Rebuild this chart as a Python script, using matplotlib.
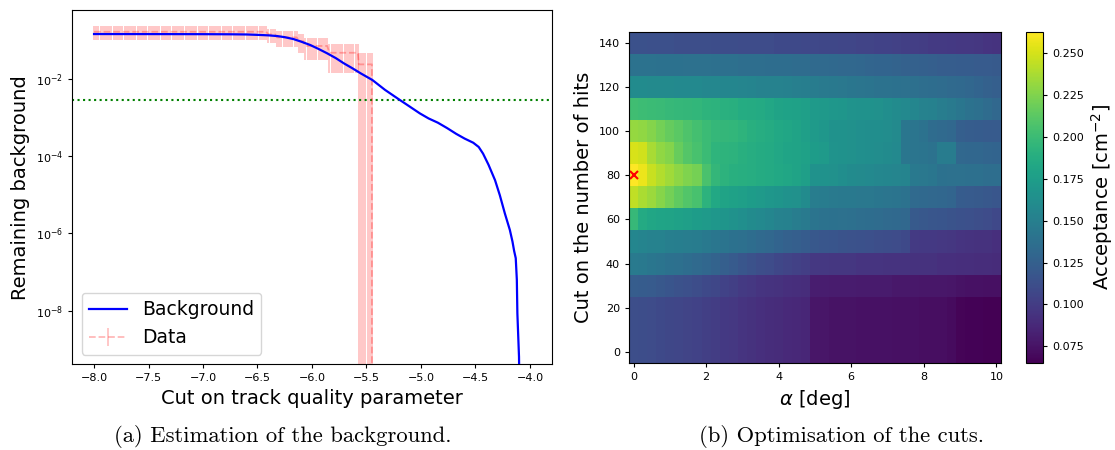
import numpy as np
import matplotlib
matplotlib.use("Agg")
import matplotlib.pyplot as plt
from matplotlib.ticker import NullLocator, FixedLocator

# ---------------- Left panel data ----------------
bkg_cut = [-8.00, -7.50, -7.00, -6.75, -6.60, -6.476, -6.40, -6.32, -6.25, -6.17,
           -6.10, -6.015, -5.94, -5.86, -5.78, -5.707, -5.63, -5.553, -5.445, -5.33,
           -5.20, -5.10, -5.01, -4.93, -4.845, -4.76, -4.676, -4.60, -4.52, -4.47,
           -4.43, -4.38, -4.32, -4.276, -4.23, -4.184, -4.16, -4.145, -4.13, -4.12,
           -4.115, -4.10, -4.095]
bkg_remaining = [0.1466, 0.1462, 0.1455, 0.1445, 0.1429, 0.1387, 0.1355, 0.1300, 0.1216, 0.1086,
                 0.0933, 0.0760, 0.0603, 0.0463, 0.0347, 0.0255, 0.0191, 0.01406, 0.00942, 0.00525,
                 0.00295, 0.00191, 0.00129, 0.000955, 0.000741, 0.000537, 0.000380, 0.000288, 0.000224, 0.000174,
                 0.000117, 6.03e-5, 2.40e-5, 9.77e-6, 3.31e-6, 1.23e-6, 6.17e-7, 3.55e-7, 2.29e-7, 6.3e-8,
                 8.5e-9, 6.3e-10, 3.2e-11]

# step levels of the data curve (start of each step, value, uncertainty)
data_step_start = [-8.00, -6.40, -6.32, -6.12, -6.06, -5.84, -5.57, -5.43]
data_step_value = [0.168, 0.144, 0.120, 0.096, 0.072, 0.048, 0.024, 0.0]
data_step_error = [0.0635, 0.0588, 0.0537, 0.048, 0.0416, 0.034, 0.0245, 0.0]
data_scan_step = 0.02
data_last_cut = -5.42

threshold = 2.8e-3
left_yticks = [1e-8, 1e-6, 1e-4, 1e-2]

# ---------------- Right panel data ----------------
alpha_deg = np.arange(0, 10.01, 0.25)          # scanned alpha cut values
hit_cuts = [0, 10, 20, 30, 40, 50, 60, 70, 80, 90, 100, 110, 120, 130, 140]

acc_0 = [0.112, 0.111, 0.110, 0.109, 0.107, 0.106, 0.105, 0.104, 0.102, 0.100, 0.098, 0.097,
         0.095, 0.093, 0.092, 0.090, 0.089, 0.088, 0.087, 0.086, 0.076, 0.076, 0.075, 0.075,
         0.075, 0.074, 0.074, 0.074, 0.074, 0.073, 0.073, 0.073, 0.072, 0.072, 0.072, 0.071,
         0.067, 0.066, 0.066, 0.065, 0.065]
acc_10 = acc_0
acc_20 = acc_0
acc_30 = [0.123, 0.122, 0.121, 0.119, 0.117, 0.115, 0.113, 0.111, 0.109, 0.107, 0.104, 0.102,
          0.099, 0.097, 0.095, 0.094, 0.093, 0.092, 0.091, 0.090, 0.081, 0.081, 0.080, 0.080,
          0.080, 0.079, 0.079, 0.079, 0.079, 0.078, 0.078, 0.078, 0.077, 0.077, 0.077, 0.076,
          0.075, 0.074, 0.074, 0.073, 0.073]
acc_40 = [0.146, 0.145, 0.143, 0.141, 0.139, 0.137, 0.135, 0.133, 0.130, 0.127, 0.124, 0.121,
          0.118, 0.115, 0.112, 0.110, 0.107, 0.105, 0.103, 0.101, 0.097, 0.097, 0.096, 0.096,
          0.096, 0.095, 0.095, 0.095, 0.094, 0.094, 0.094, 0.093, 0.093, 0.093, 0.092, 0.092,
          0.091, 0.091, 0.090, 0.090, 0.089]
acc_50 = [0.156, 0.154, 0.153, 0.152, 0.150, 0.149, 0.148, 0.147, 0.145, 0.143, 0.141, 0.139,
          0.137, 0.135, 0.133, 0.131, 0.128, 0.126, 0.124, 0.122, 0.119, 0.118, 0.117, 0.116,
          0.115, 0.114, 0.113, 0.112, 0.111, 0.110, 0.109, 0.099, 0.098, 0.098, 0.097, 0.096,
          0.095, 0.094, 0.093, 0.093, 0.092]
acc_60 = [0.198, 0.185, 0.182, 0.181, 0.180, 0.178, 0.176, 0.174, 0.172, 0.170, 0.168, 0.166,
          0.163, 0.160, 0.158, 0.156, 0.153, 0.151, 0.148, 0.146, 0.141, 0.140, 0.139, 0.138,
          0.137, 0.136, 0.135, 0.134, 0.133, 0.132, 0.131, 0.120, 0.119, 0.118, 0.117, 0.116,
          0.114, 0.113, 0.112, 0.110, 0.108]
acc_70 = [0.244, 0.238, 0.233, 0.227, 0.221, 0.215, 0.209, 0.205, 0.192, 0.184, 0.180, 0.178,
          0.176, 0.174, 0.172, 0.170, 0.168, 0.166, 0.164, 0.160, 0.148, 0.147, 0.146, 0.145,
          0.145, 0.144, 0.144, 0.143, 0.142, 0.141, 0.140, 0.133, 0.132, 0.131, 0.130, 0.129,
          0.122, 0.121, 0.120, 0.119, 0.118]
acc_80 = [0.263, 0.257, 0.246, 0.240, 0.235, 0.229, 0.225, 0.222, 0.206, 0.196, 0.192, 0.190,
          0.189, 0.188, 0.186, 0.185, 0.184, 0.182, 0.180, 0.176, 0.166, 0.165, 0.164, 0.162,
          0.160, 0.159, 0.158, 0.157, 0.156, 0.155, 0.154, 0.145, 0.144, 0.143, 0.139, 0.138,
          0.138, 0.137, 0.137, 0.136, 0.136]
acc_90 = [0.251, 0.249, 0.237, 0.230, 0.226, 0.217, 0.210, 0.205, 0.200, 0.194, 0.193, 0.192,
          0.190, 0.188, 0.186, 0.185, 0.183, 0.181, 0.180, 0.178, 0.174, 0.172, 0.167, 0.165,
          0.164, 0.163, 0.162, 0.161, 0.160, 0.158, 0.143, 0.142, 0.141, 0.140, 0.147, 0.147,
          0.131, 0.130, 0.130, 0.129, 0.128]
acc_100 = [0.232, 0.230, 0.226, 0.221, 0.216, 0.212, 0.208, 0.204, 0.200, 0.197, 0.196, 0.195,
           0.193, 0.190, 0.188, 0.186, 0.184, 0.182, 0.180, 0.176, 0.172, 0.170, 0.166, 0.165,
           0.164, 0.163, 0.162, 0.162, 0.161, 0.159, 0.143, 0.142, 0.140, 0.134, 0.133, 0.131,
           0.124, 0.123, 0.122, 0.121, 0.121]
acc_110 = [0.202, 0.201, 0.200, 0.199, 0.198, 0.197, 0.196, 0.195, 0.193, 0.192, 0.191, 0.190,
           0.187, 0.186, 0.185, 0.183, 0.180, 0.179, 0.178, 0.176, 0.172, 0.171, 0.170, 0.169,
           0.167, 0.166, 0.165, 0.164, 0.162, 0.160, 0.158, 0.156, 0.153, 0.151, 0.148, 0.146,
           0.143, 0.140, 0.137, 0.134, 0.131]
acc_120 = [0.160, 0.160, 0.159, 0.159, 0.159, 0.158, 0.158, 0.158, 0.157, 0.157, 0.156, 0.156,
           0.155, 0.154, 0.153, 0.153, 0.152, 0.151, 0.150, 0.149, 0.147, 0.146, 0.145, 0.144,
           0.143, 0.142, 0.141, 0.140, 0.140, 0.139, 0.138, 0.137, 0.136, 0.135, 0.134, 0.133,
           0.132, 0.130, 0.128, 0.126, 0.124]
acc_130 = [0.140, 0.140, 0.140, 0.139, 0.139, 0.139, 0.138, 0.138, 0.138, 0.137, 0.137, 0.137,
           0.136, 0.136, 0.136, 0.135, 0.135, 0.135, 0.134, 0.134, 0.133, 0.133, 0.132, 0.131,
           0.131, 0.130, 0.129, 0.128, 0.128, 0.127, 0.126, 0.126, 0.125, 0.124, 0.123, 0.123,
           0.122, 0.122, 0.121, 0.121, 0.120]
acc_140 = [0.114, 0.114, 0.113, 0.113, 0.113, 0.112, 0.112, 0.112, 0.112, 0.111, 0.111, 0.111,
           0.110, 0.110, 0.110, 0.110, 0.109, 0.109, 0.109, 0.108, 0.108, 0.107, 0.107, 0.106,
           0.106, 0.105, 0.105, 0.104, 0.104, 0.103, 0.102, 0.101, 0.100, 0.099, 0.099, 0.098,
           0.097, 0.097, 0.096, 0.095, 0.094]

best_alpha = 0.0
best_hits = 80

caption_a = "(a) Estimation of the background."
caption_b = "(b) Optimisation of the cuts."

# ---------------- Figure ----------------
fig = plt.figure(figsize=(11.15, 4.5), dpi=100)

# Left panel
ax1 = fig.add_axes([0.0648, 0.1904, 0.4300, 0.7873])

# expand the step levels over the scanned cut values
data_x = []
data_y = []
data_err = []
edges = data_step_start + [data_last_cut + 1e-9]
for i in range(len(data_step_value)):
    xs = np.arange(edges[i], edges[i + 1] - 1e-9, data_scan_step)
    for xv in xs:
        data_x.append(xv)
        data_y.append(data_step_value[i])
        data_err.append(data_step_error[i])

ax1.plot(bkg_cut, bkg_remaining, color="blue", lw=1.6, label="Background", zorder=3)
ax1.errorbar(data_x, data_y, yerr=data_err, fmt="--", color="red", alpha=0.28,
             lw=1.3, elinewidth=1.1, label="Data", zorder=2)
ax1.axhline(threshold, color="green", ls=":", lw=1.5)
ax1.set_yscale("log")
ax1.set_xlim(-8.2, -3.8)
ax1.set_ylim(10 ** -9.39, 10 ** -0.212)
ax1.yaxis.set_major_locator(FixedLocator(left_yticks))
ax1.yaxis.set_minor_locator(NullLocator())
ax1.set_xlabel("Cut on track quality parameter", fontsize=14)
ax1.set_ylabel("Remaining background", fontsize=14)
ax1.tick_params(labelsize=8, length=3)
ax1.legend(loc="lower left", fontsize=13.5)

# Right panel
acc = np.array([acc_0, acc_10, acc_20, acc_30, acc_40, acc_50, acc_60, acc_70,
                acc_80, acc_90, acc_100, acc_110, acc_120, acc_130, acc_140])
ax2 = fig.add_axes([0.5641, 0.1933, 0.3336, 0.7362])
mesh = ax2.pcolormesh(alpha_deg, hit_cuts, acc, shading="nearest", cmap="viridis")
ax2.plot([best_alpha], [best_hits], "x", color="red", ms=6, mew=1.5)
ax2.set_xlabel(r"$\alpha$ [deg]", fontsize=14)
ax2.set_ylabel("Cut on the number of hits", fontsize=14)
ax2.set_xticks([0, 2, 4, 6, 8, 10])
ax2.set_yticks([0, 20, 40, 60, 80, 100, 120, 140])
ax2.tick_params(labelsize=8, length=3)

cax = fig.add_axes([0.9202, 0.1933, 0.0152, 0.7362])
cb = fig.colorbar(mesh, cax=cax)
cb.set_label(r"Acceptance [cm$^{-2}$]", fontsize=14)
cb.ax.tick_params(labelsize=8, length=3)

# Captions
fig.text(0.254, 0.029, caption_a, ha="center", va="center", fontsize=16.3, family="cmr10")
fig.text(0.755, 0.029, caption_b, ha="center", va="center", fontsize=16.3, family="cmr10")

fig.savefig("out.png", dpi=100)
